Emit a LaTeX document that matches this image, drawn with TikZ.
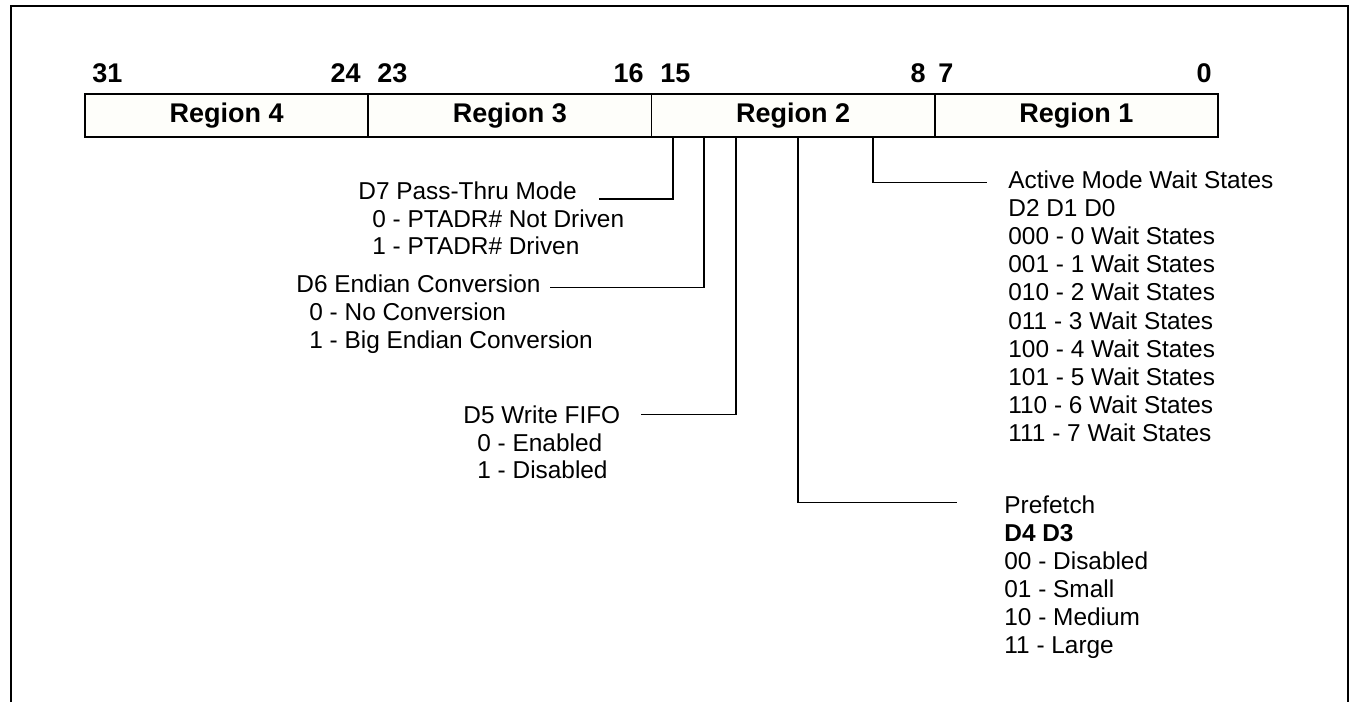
\documentclass[tikz,border=0pt]{standalone}
\usepackage{fontspec}
\setmainfont{Liberation Sans}
\definecolor{boxfill}{RGB}{254,254,250}

\begin{document}
\begin{tikzpicture}[x=0.5pt, y=-0.5pt,
    every node/.style={inner sep=0pt, font=\fontsize{12.2}{14}\selectfont},
    region/.style={draw, line width=0.75pt, fill=boxfill, minimum width=141.6pt,
      minimum height=21.5pt, font=\fontsize{13.5}{15}\selectfont\bfseries},
    bitno/.style={font=\fontsize{13.5}{15}\selectfont\bfseries},
    wire/.style={line width=0.6pt}]
      \useasboundingbox (0,0) rectangle (1353,702);
      \draw[line width=1pt] (11,702) -- (11,6) -- (1348,6) -- (1348,702);

      \node[region] (R4) at (226.6,115.5) {Region 4};
      \node[region] (R3) at (509.9,115.5) {Region 3};
      \node[region] (R2) at (793.1,115.5) {Region 2};
      \node[region] (R1) at (1076.4,115.5) {Region 1};

      \node[bitno, anchor=base west] (b31) at (92,82) {31};
      \node[bitno, anchor=base east] (b24) at (361,82) {24};
      \node[bitno, anchor=base west] (b23) at (377,82) {23};
      \node[bitno, anchor=base east] (b16) at (644,82) {16};
      \node[bitno, anchor=base west] (b15) at (660,82) {15};
      \node[bitno, anchor=base east] (b8) at (926,82) {8};
      \node[bitno, anchor=base west] (b7) at (938,82) {7};
      \node[bitno, anchor=base east] (b0) at (1212,82) {0};

      % taps under region 2
      \coordinate (t7) at (673,137);
      \coordinate (t6) at (704,137);
      \coordinate (t5) at (736,137);
      \coordinate (t43) at (798,137);
      \coordinate (t20) at (873,137);

      \node[anchor=base west] (D7) at (358,199) {D7 Pass-Thru Mode};
      \node[anchor=base west] (D7a) at (372,227) {0 - PTADR\# Not Driven};
      \node[anchor=base west] (D7b) at (372,254) {1 - PTADR\# Driven};

      \node[anchor=base west] (D6) at (296,292) {D6 Endian Conversion};
      \node[anchor=base west] (D6a) at (309,320) {0 - No Conversion};
      \node[anchor=base west] (D6b) at (309,348) {1 - Big Endian Conversion};

      \node[anchor=base west] (D5) at (463,423) {D5 Write FIFO};
      \node[anchor=base west] (D5a) at (477,451) {0 - Enabled};
      \node[anchor=base west] (D5b) at (477,478) {1 - Disabled};

      \node[anchor=base west] (AW) at (1008,188) {Active Mode Wait States};
      \node[anchor=base west] (AWh) at (1008,216.2) {D2 D1 D0};
      \foreach \bits [count=\n from 0] in {000,001,010,011,100,101,110,111}
        \node[anchor=base west] (AW\n) at (1008,{244.4+28.2*\n}) {\bits\ - \n\ Wait States};

      \node[anchor=base west] (PF) at (1004,513) {Prefetch};
      \node[anchor=base west, font=\fontsize{12.2}{14}\selectfont\bfseries] (PFh) at (1004,541) {D4 D3};
      \foreach \bits/\size [count=\n] in {00/Disabled, 01/Small, 10/Medium, 11/Large}
        \node[anchor=base west] (PF\n) at (1004,{541+28*\n}) {\bits\ - \size};

      \draw[wire] (t7) |- ([xshift=11pt, yshift=-4.4pt]D7.east);
      \draw[wire] (t6) |- ([xshift=4.5pt, yshift=-2pt]D6.east);
      \draw[wire] (t5) |- ([xshift=10pt]D5.east);
      \draw[wire] (t43) |- ([xshift=-23.5pt, yshift=1pt]PF.west);
      \draw[wire] (t20) |- ([xshift=-10.5pt, yshift=-1.5pt]AW.west);
    \end{tikzpicture}
\end{document}
